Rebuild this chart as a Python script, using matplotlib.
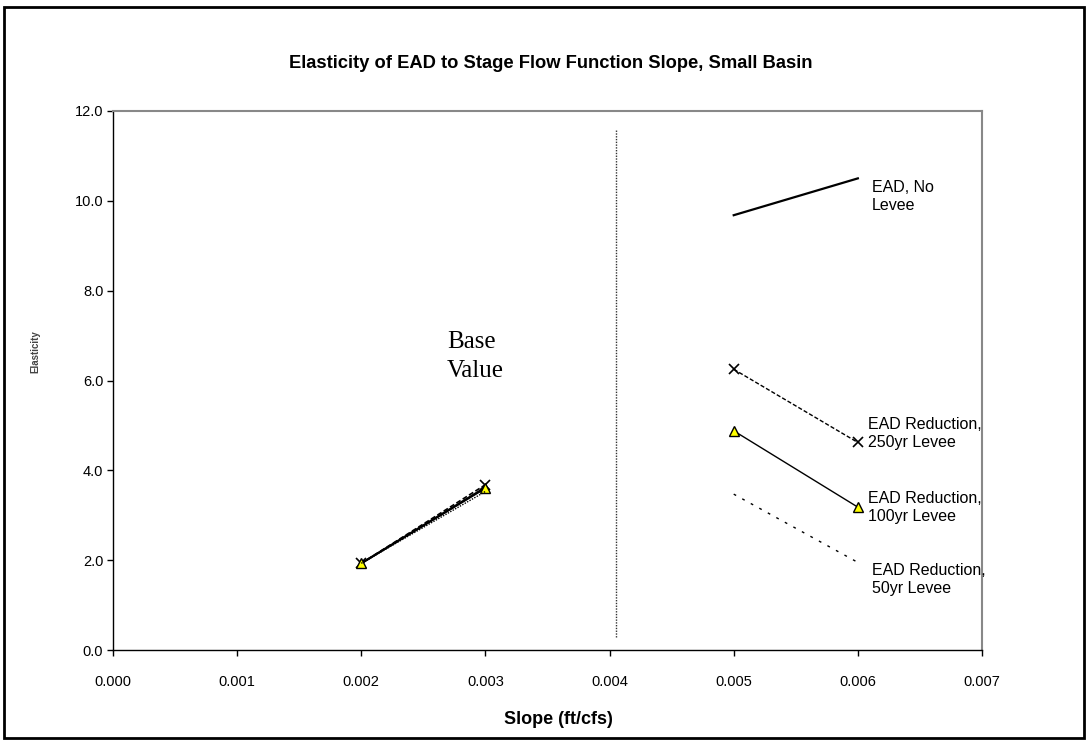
import matplotlib
matplotlib.use("Agg")
import matplotlib.pyplot as plt
from matplotlib.patches import Rectangle

plt.rcParams['font.family'] = ['Liberation Sans', 'DejaVu Sans']

# Data
slope_base = [0.002, 0.003]
slope_alt = [0.005, 0.006]
no_levee_base = [1.93, 3.62]
no_levee_alt = [9.68, 10.5]
lev250_base = [1.93, 3.68]
lev250_alt = [6.25, 4.62]
lev100_base = [1.93, 3.60]
lev100_alt = [4.88, 3.18]
lev50_base = [1.93, 3.53]
lev50_alt = [3.47, 1.95]
base_value_x = 0.00405
base_value_span = [0.3, 11.6]

xticks = [0.000, 0.001, 0.002, 0.003, 0.004, 0.005, 0.006, 0.007]
yticks = [0.0, 2.0, 4.0, 6.0, 8.0, 10.0, 12.0]

fig = plt.figure(figsize=(10.88, 7.41), dpi=100)
ax = fig.add_axes([113/1088, 1-650/741, (982-113)/1088, (650-111)/741])

# Base side
ax.plot(slope_base, no_levee_base, color='black', lw=1.6)
ax.plot(slope_base, lev250_base, color='black', lw=1.2, ls=(0, (3, 1.5)),
        marker='x', ms=7, mew=1.2, mec='black')
ax.plot(slope_base, lev100_base, color='black', lw=1.2,
        marker='^', ms=7, mfc='#ffff00', mec='black', mew=1.0)
ax.plot(slope_base, lev50_base, color='black', lw=1.0, ls=(0, (1, 1)))

# Alternative side
ax.plot(slope_alt, no_levee_alt, color='black', lw=1.6)
ax.plot(slope_alt, lev250_alt, color='black', lw=1.0, ls=(0, (3, 1.5)),
        marker='x', ms=7, mew=1.2, mec='black')
ax.plot(slope_alt, lev100_alt, color='black', lw=1.0,
        marker='^', ms=7, mfc='#ffff00', mec='black', mew=1.0)
ax.plot(slope_alt, lev50_alt, color='black', lw=1.0, ls=(0, (2, 5)))

# base value line
ax.plot([base_value_x, base_value_x], base_value_span, color='#333333',
        lw=1.0, ls=(0, (1, 1)))

ax.text(0.00269, 6.53, "Base\nValue", family=['Liberation Serif'], fontsize=18,
        ha='left', va='center', linespacing=1.4)

ann_kw = dict(fontsize=11.5, ha='left', va='center', linespacing=1.25)
ax.text(0.00611, 10.1, "EAD, No\nLevee", **ann_kw)
ax.text(0.00608, 4.81, "EAD Reduction,\n250yr Levee", **ann_kw)
ax.text(0.00608, 3.18, "EAD Reduction,\n100yr Levee", **ann_kw)
ax.text(0.00611, 1.56, "EAD Reduction,\n50yr Levee", **ann_kw)

ax.set_xlim(0, 0.007)
ax.set_ylim(0, 12)
ax.set_xticks(xticks)
ax.set_xticklabels([f"{v:.3f}" for v in xticks])
ax.set_yticks(yticks)
ax.set_yticklabels([f"{v:.1f}" for v in yticks])
ax.tick_params(axis='both', direction='out', length=4, width=1, labelsize=10.5,
               colors='black')
ax.tick_params(axis='x', pad=14)
ax.tick_params(axis='y', pad=3)

for s in ['left', 'bottom']:
    ax.spines[s].set_color('black')
    ax.spines[s].set_linewidth(1.0)
for s in ['top', 'right']:
    ax.spines[s].set_color('#888888')
    ax.spines[s].set_linewidth(1.5)

fig.text(289/1088, 1-64/741, "Elasticity of EAD to Stage Flow Function Slope, Small Basin",
         ha='left', va='center', fontsize=13.2, fontweight='bold')
fig.text(558/1088, 1-720/741, "Slope (ft/cfs)", ha='center', va='center',
         fontsize=13, fontweight='bold')
fig.text(35/1088, 1-352/741, "Elasticity", ha='center', va='center',
         rotation=90, fontsize=7, fontweight='bold', color='#444444')

fig.patches.append(Rectangle((4/1088, 3/741), 1080/1088, 731/741,
                             transform=fig.transFigure, fill=False,
                             edgecolor='black', lw=2))

fig.savefig("out.png", dpi=100)
